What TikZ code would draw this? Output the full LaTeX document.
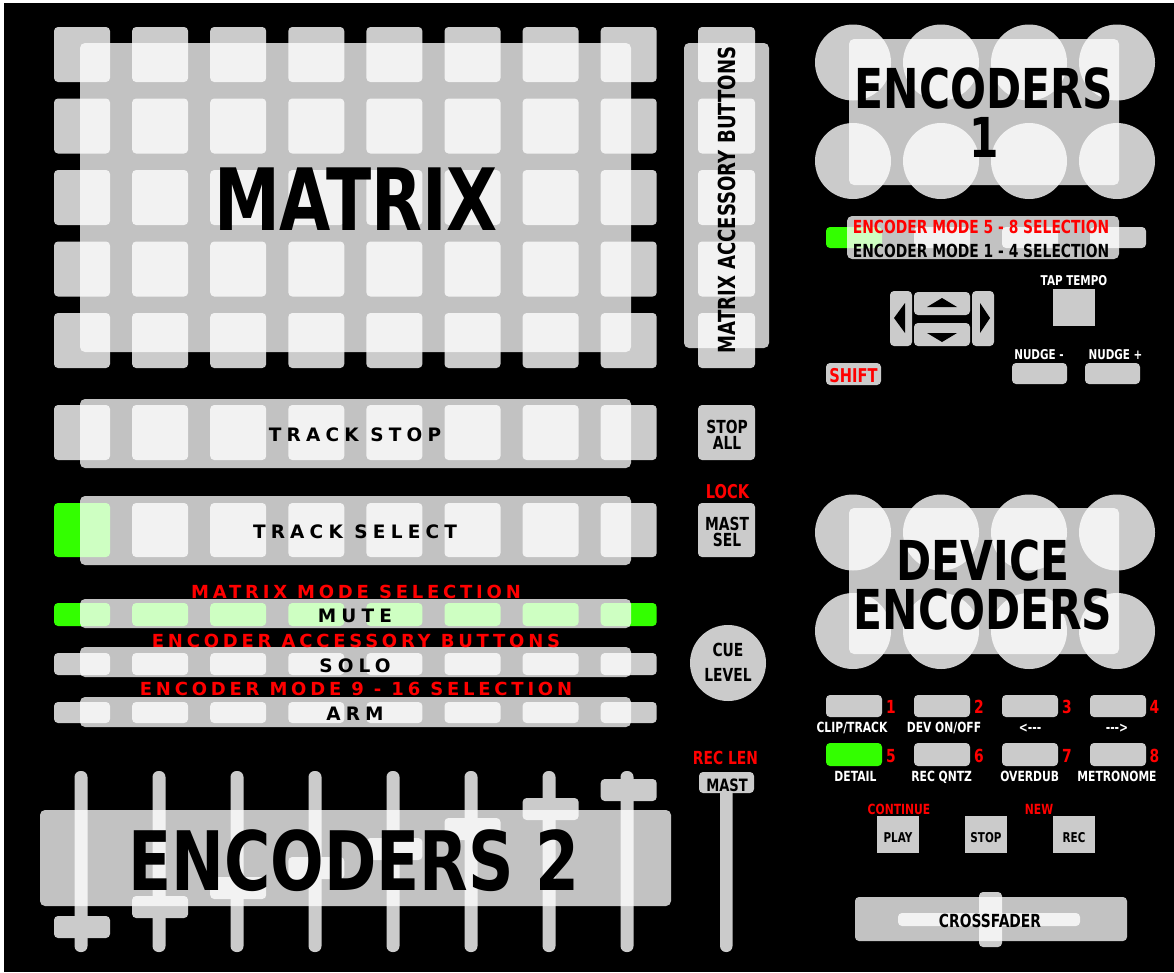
\documentclass[tikz,border=0pt]{standalone}
\usepackage{fontspec}
\setmainfont{DejaVu Sans}
\newfontfamily\cnd[FakeStretch=0.77]{DejaVu Sans}
\newfontfamily\trk[LetterSpace=28]{DejaVu Sans}
\newfontfamily\trkr[LetterSpace=21]{DejaVu Sans}
\definecolor{btn}{HTML}{CBCBCB}
\definecolor{grn}{HTML}{33FF00}
\definecolor{rd}{HTML}{FF0000}
\newcommand{\fs}[1]{\fontsize{#1}{#1}\selectfont}
\newcommand{\twolines}[2]{\begin{tabular}[t]{@{}c@{}}#1\\\smash{#2}\end{tabular}}
\begin{document}
\begin{tikzpicture}[x=1pt,y=-1pt,
 pad/.style={fill=btn, rounded corners=4pt},
 gpad/.style={fill=grn, rounded corners=4pt},
 sq/.style={fill=btn},
 knob/.style={fill=btn, rounded corners=6pt},
 ov/.style={fill=white, fill opacity=0.76, rounded corners=5pt},
 tri/.style={fill=black},
 lbl/.style={anchor=base, inner sep=0pt, text depth=0pt},
 sp/.style={lbl, font=\trk\bfseries\fs{18.5}},
 spr/.style={lbl, text=rd, font=\trkr\bfseries\fs{18}},
 cn/.style={lbl, font=\cnd\bfseries\fs{#1}},
 big/.style={anchor=base, inner sep=0pt, font=\cnd\bfseries\fontsize{55}{49}\selectfont},
 small2/.style={anchor=base, inner sep=0pt, font=\cnd\bfseries\fontsize{18}{#1}\selectfont},
 cnr/.style={cn=#1, text=rd},
 cnw/.style={cn=#1, text=white}]
\useasboundingbox (0,0) rectangle (1174,972);
\fill[white] (0,0) rectangle (1174,972);
\fill[black] (4,3) rectangle (1174,972);

% ---------- matrix ----------
\foreach \i in {0,...,7}{\foreach \j in {0,...,4}{
  \fill[pad] ({54+78.1*\i},{27+71.5*\j}) rectangle ++(56,55);}}
\foreach \j in {0,...,4}{\fill[pad] (698,{27+71.5*\j}) rectangle ++(57,55);}
% track stop / select / mute / solo / arm
\foreach \i in {0,...,7}{
  \fill[pad] ({54+78.1*\i},405) rectangle ++(56,55);
  \fill[gpad] ({54+78.1*\i},603) rectangle ++(56,23);
  \fill[pad] ({54+78.1*\i},653) rectangle ++(56,22);
  \fill[pad] ({54+78.1*\i},702) rectangle ++(56,21);}
\fill[gpad] (54,503) rectangle ++(56,54);
\foreach \i in {1,...,7}{\fill[pad] ({54+78.1*\i},503) rectangle ++(56,54);}
% side buttons
\fill[pad] (698,405) rectangle (755,460);
\fill[pad] (698,503) rectangle (755,557);
\fill[btn] (728,663) circle (38);
% faders
\foreach \i/\t in {0/916,1/896,2/877,3/857,4/838,5/818,6/798,7/779}{
  \fill[knob] ({74.5+78*\i},771) rectangle ++(13,181);
  \fill[pad] ({54+78.1*\i},\t) rectangle ++(56,22);}
\fill[knob] (720,780) rectangle (732.5,952);
\fill[pad] (699,772) rectangle (754,793);

% overlays left
\fill[ov] (80,43) rectangle (631,352);
\fill[ov] (684,43) rectangle (769,348);
\fill[ov] (80,399) rectangle (631,468);
\fill[ov] (80,496) rectangle (631,565);
\fill[ov] (80,599) rectangle (631,628);
\fill[ov] (80,647) rectangle (631,677);
\fill[ov] (80,697) rectangle (631,727);
\fill[ov] (40,810) rectangle (671,906);

% ---------- right side ----------
\foreach \i in {0,...,3}{
  \fill[btn] ({853+88*\i},62.5) circle (38);
  \fill[btn] ({853+88*\i},161) circle (38);
  \fill[btn] ({853+88*\i},532.5) circle (38);
  \fill[btn] ({853+88*\i},631) circle (38);}
\fill[gpad] (826,227) rectangle ++(56,21);
\foreach \i in {1,2,3}{\fill[pad] ({826+88*\i},227) rectangle ++(56,21);}
\fill[ov] (849,39) rectangle (1119,185);
\fill[ov] (847,216) rectangle (1119,259);
\fill[ov] (849,508) rectangle (1119,654);
% arrows
\fill[pad] (890,291) rectangle (912,346);
\fill[pad] (914,292) rectangle (970,315);
\fill[pad] (914,323) rectangle (970,346);
\fill[pad] (972,291) rectangle (994,346);
\fill[tri] (894,318) -- (905,303) -- (905,333) -- cycle;
\fill[tri] (990,318) -- (980,303) -- (980,333) -- cycle;
\fill[tri] (942,298) -- (957,307) -- (927,307) -- cycle;
\fill[tri] (942,342) -- (957,333) -- (927,333) -- cycle;
\fill[sq] (1053,289) rectangle (1095,326);
\fill[pad] (1012,363) rectangle (1067,384);
\fill[pad] (1085,363) rectangle (1140,384);
\fill[pad] (826,363) rectangle (881,385);
% number buttons
\fill[gpad] (826,743) rectangle ++(56,23);
\foreach \i in {0,...,3}{\fill[pad] ({826+88*\i},695) rectangle ++(56,22);}
\foreach \i in {1,2,3}{\fill[pad] ({826+88*\i},743) rectangle ++(56,23);}
\fill[sq] (877,816) rectangle (919,853);
\fill[sq] (965,816) rectangle (1007,853);
\fill[sq] (1053,816) rectangle (1095,853);
% crossfader
\fill[pad] (898,913) rectangle (1080,926);
\fill[pad] (979,892) rectangle (1002,947);
\fill[ov, rounded corners=4pt] (855,897) rectangle (1127,941);

% ---------- texts ----------
\node[cn=86] (tMatrix) at (356,230) {MATRIX};
\node[rotate=90, inner sep=0pt, font=\cnd\bfseries\fs{23.5}] (tAcc) at (727,200) {MATRIX ACCESSORY BUTTONS};
\node[sp] (tTStop) at (355,441) {TRACK STOP};
\node[sp] (tTSel) at (355,538) {TRACK SELECT};
\node[spr] (tMMode) at (356,598) {MATRIX MODE SELECTION};
\node[sp] (tMute) at (355,622) {MUTE};
\node[spr] (tEAcc) at (356,647) {ENCODER ACCESSORY BUTTONS};
\node[sp] (tSolo) at (355,672) {SOLO};
\node[spr] (tEMode) at (356,695) {ENCODER MODE 9 - 16 SELECTION};
\node[sp] (tArm) at (355,720) {ARM};
\node[small2=16] (tStopAll) at (727,433) {\twolines{STOP}{ALL}};
\node[cnr=19] (tLock) at (727.5,498) {LOCK};
\node[small2=16] (tMastSel) at (727,530) {\twolines{MAST}{SEL}};
\node[small2=25] (tCue) at (728,656) {\twolines{CUE}{LEVEL}};
\node[cnr=18] (tRecLen) at (725.5,764) {REC LEN};
\node[cn=17] (tMast) at (727,791) {MAST};
\node[cn=82] (tEnc2) at (354,890) {ENCODERS 2};

\node[big] (tEnc1) at (984,108) {\twolines{ENCODERS}{1}};
\node[cnr=18] (tMode58) at (981,233) {ENCODER MODE 5 - 8 SELECTION};
\node[cn=18, text height=13pt] (tMode14) at (981,257) {ENCODER MODE 1 - 4 SELECTION};
\node[cnw=13.5] (tTap) at (1074,285) {TAP TEMPO};
\node[cnw=13.5] (tNudM) at (1039,359) {NUDGE -};
\node[cnw=13.5] (tNudP) at (1115.5,359) {NUDGE +};
\node[cnr=19] (tShift) at (853.5,382) {SHIFT};
\node[big] (tDev) at (983,580) {\twolines{DEVICE}{ENCODERS}};

\foreach \n/\x in {1/891,2/979,3/1067,4/1154.5}{\node[cnr=18] (tN\n) at (\x,713) {\n};}
\foreach \n/\x in {5/891,6/979,7/1067,8/1154.5}{\node[cnr=18] (tN\n) at (\x,762) {\n};}
\node[cnw=14] (tL1) at (852,732) {CLIP/TRACK};
\node[cnw=14] (tL2) at (944,732) {DEV ON/OFF};
\node[cnw=14] (tL3) at (1030,732) {<-{}-{}-};
\node[cnw=14] (tL4) at (1117,732) {-{}-{}->};
\node[cnw=14] (tL5) at (855.5,781) {DETAIL};
\node[cnw=14] (tL6) at (941.7,781) {REC QNTZ};
\node[cnw=14] (tL7) at (1029.7,781) {OVERDUB};
\node[cnw=14] (tL8) at (1117,781) {METRONOME};
\node[cnr=14] (tCont) at (899,814) {CONTINUE};
\node[cnr=14] (tNew) at (1039,814) {NEW};
\node[cn=13.5] (tPlay) at (898,842) {PLAY};
\node[cn=13.5] (tStop) at (986,842) {STOP};
\node[cn=13.5] (tRec) at (1074,842) {REC};
\node[cn=18] (tXf) at (990,927) {CROSSFADER};
\end{tikzpicture}
\end{document}
